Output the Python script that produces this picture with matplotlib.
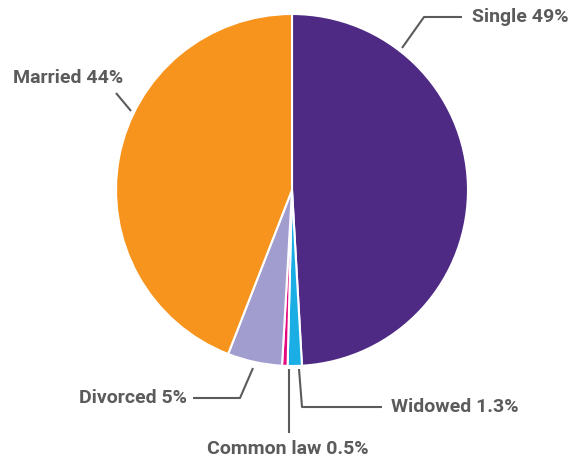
import matplotlib.pyplot as plt

# marital status shares, clockwise from 12 o'clock
labels = ['Single', 'Widowed', 'Common law', 'Divorced', 'Married']
shares = [49, 1.3, 0.5, 5, 44]
colors = ['#4e2a84', '#1aaee5', '#e5097f', '#a29dcf', '#f7941d']

W, H = 578, 463
fig = plt.figure(figsize=(W / 100, H / 100), dpi=100)
ax = fig.add_axes([0, 0, 1, 1])
ax.set_xlim(0, W)
ax.set_ylim(0, H)
ax.set_aspect('equal')
ax.axis('off')

ax.pie(shares, colors=colors, startangle=90, counterclock=False,
       center=(292, H - 190), radius=176,
       wedgeprops=dict(edgecolor='white', linewidth=1.5))
ax.set_xlim(0, W)
ax.set_ylim(0, H)

grey = '#5b5b5b'
font = dict(family=['Liberation Sans Narrow', 'Roboto'], fontweight='bold',
            fontsize=14, color=grey)

def fl(y):
    return H - y

# leader lines, in pixel coordinates (y measured from the top)
leaders = {
    'Single':     [(402, 48), (424, 17), (462, 17)],
    'Married':    [(131, 111), (116, 93)],
    'Divorced':   [(253, 368), (240, 398), (193, 398)],
    'Common law': [(289, 369), (289, 433)],
    'Widowed':    [(299, 369), (302, 407), (382, 407)],
}
for pts in leaders.values():
    xs = [p[0] for p in pts]
    ys = [fl(p[1]) for p in pts]
    ax.plot(xs, ys, color=grey, lw=1.5, solid_capstyle='butt')

pct = {l: s for l, s in zip(labels, shares)}
def txt(l):
    v = pct[l]
    return f'{l} {v:g}%'

ax.text(472, fl(17), txt('Single'), ha='left', va='center', **font)
ax.text(13, fl(78), txt('Married'), ha='left', va='center', **font)
ax.text(187, fl(398), txt('Divorced'), ha='right', va='center', **font)
ax.text(288, fl(449), txt('Common law'), ha='center', va='center', **font)
ax.text(391, fl(407), txt('Widowed'), ha='left', va='center', **font)

fig.savefig('out.png', dpi=100, facecolor='white')
